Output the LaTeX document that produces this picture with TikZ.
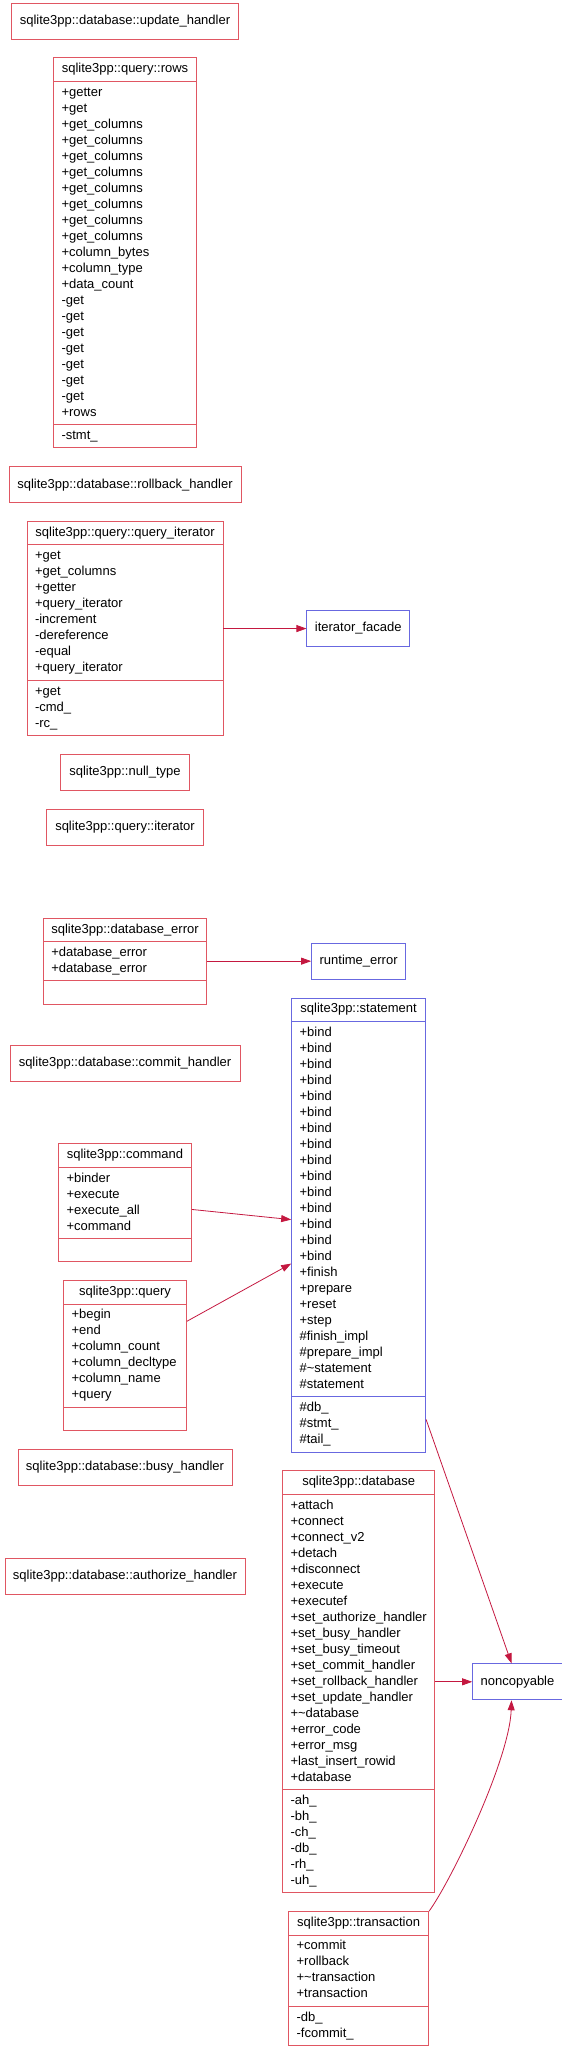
\documentclass[tikz,border=0pt]{standalone}
\usepackage{fontspec}
\setmainfont{Liberation Sans}
\usetikzlibrary{shapes.multipart, arrows.meta, positioning, calc}

\definecolor{clsred}{RGB}{224,86,98}
\definecolor{clsblue}{RGB}{104,104,224}
\definecolor{edgered}{RGB}{196,24,64}

\newcommand{\members}[1]{\begin{tabular}{@{}l@{}}#1\end{tabular}}

\tikzset{
    plainbox/.style={draw=clsred, line width=0.9pt, minimum height=36pt, inner xsep=8pt,
        font=\fontsize{13}{16}\selectfont},
    classbox/.style={draw=clsred, line width=0.9pt, rectangle split, rectangle split parts=3,
        rectangle split part align={center,left,left}, inner xsep=8pt, inner ysep=3.2pt,
        font=\fontsize{13}{16}\selectfont},
    isa/.style={draw=edgered, line width=0.8pt, -{Triangle[length=10pt, width=7pt, fill=edgered]}},
}

\begin{document}
\begin{tikzpicture}[x=1pt, y=-1pt]
    \useasboundingbox (0,0) rectangle (562,2054);

    \node [plainbox, minimum width=227pt] (UpdH) at (125,21) {sqlite3pp::database::update\_handler};
    \node [classbox, minimum width=143pt, below=18pt of UpdH] (Rows) {\strut sqlite3pp::query::rows
        \nodepart{second}\members{+getter\\+get\\+get\_columns\\+get\_columns\\+get\_columns\\+get\_columns\\
            +get\_columns\\+get\_columns\\+get\_columns\\+get\_columns\\+column\_bytes\\+column\_type\\
            +data\_count\\-get\\-get\\-get\\-get\\-get\\-get\\-get\\+rows}
        \nodepart{third}\members{-stmt\_}};
    \node [plainbox, minimum width=232pt, below=18pt of Rows] (RollH) {sqlite3pp::database::rollback\_handler};
    \node [classbox, minimum width=196pt, below=18pt of RollH] (QIter) {\strut sqlite3pp::query::query\_iterator
        \nodepart{second}\members{+get\\+get\_columns\\+getter\\+query\_iterator\\-increment\\-dereference\\
            -equal\\+query\_iterator}
        \nodepart{third}\members{+get\\-cmd\_\\-rc\_}};
    \node [plainbox, minimum width=129pt, below=18pt of QIter] (NullT) {sqlite3pp::null\_type};
    \node [plainbox, minimum width=157pt, below=18pt of NullT] (Iter) {sqlite3pp::query::iterator};
    \node [classbox, minimum width=163pt, below=72pt of Iter] (DbErr) {\strut sqlite3pp::database\_error
        \nodepart{second}\members{+database\_error\\+database\_error}
        \nodepart{third}\members{\mbox{}}};
    \node [plainbox, minimum width=230pt, below=40pt of DbErr] (CommitH) {sqlite3pp::database::commit\_handler};
    \node [classbox, minimum width=133pt, below=62pt of CommitH] (Cmd) {\strut sqlite3pp::command
        \nodepart{second}\members{+binder\\+execute\\+execute\_all\\+command}
        \nodepart{third}\members{\mbox{}}};
    \node [classbox, minimum width=123pt, below=18pt of Cmd] (Query) {\strut sqlite3pp::query
        \nodepart{second}\members{+begin\\+end\\+column\_count\\+column\_decltype\\+column\_name\\+query}
        \nodepart{third}\members{\mbox{}}};
    \node [plainbox, minimum width=214pt, below=18pt of Query] (BusyH) {sqlite3pp::database::busy\_handler};
    \node [plainbox, minimum width=240pt, below=72pt of BusyH] (AuthH) {sqlite3pp::database::authorize\_handler};

    \node [plainbox, draw=clsblue, minimum width=101pt, right=83pt of QIter] (IterFac) {iterator\_facade};
    \node [plainbox, draw=clsblue, minimum width=92pt, right=104pt of DbErr] (RtErr) {runtime\_error};
    \node [classbox, draw=clsblue, minimum width=134pt, below=18pt of RtErr] (Stmt) {\strut sqlite3pp::statement
        \nodepart{second}\members{+bind\\+bind\\+bind\\+bind\\+bind\\+bind\\+bind\\+bind\\+bind\\+bind\\
            +bind\\+bind\\+bind\\+bind\\+bind\\+finish\\+prepare\\+reset\\+step\\\#finish\_impl\\
            \#prepare\_impl\\\#\textasciitilde statement\\\#statement}
        \nodepart{third}\members{\#db\_\\\#stmt\_\\\#tail\_}};
    \node [classbox, minimum width=151pt, below=18pt of Stmt] (Db) {\strut sqlite3pp::database
        \nodepart{second}\members{+attach\\+connect\\+connect\_v2\\+detach\\+disconnect\\+execute\\+executef\\
            +set\_authorize\_handler\\+set\_busy\_handler\\+set\_busy\_timeout\\+set\_commit\_handler\\
            +set\_rollback\_handler\\+set\_update\_handler\\+\textasciitilde database\\+error\_code\\
            +error\_msg\\+last\_insert\_rowid\\+database}
        \nodepart{third}\members{-ah\_\\-bh\_\\-ch\_\\-db\_\\-rh\_\\-uh\_}};
    \node [classbox, minimum width=140pt, below=18pt of Db] (Trans) {\strut sqlite3pp::transaction
        \nodepart{second}\members{+commit\\+rollback\\+\textasciitilde transaction\\+transaction}
        \nodepart{third}\members{-db\_\\-fcommit\_}};
    \node [plainbox, draw=clsblue, minimum width=89pt, right=37pt of Db] (NonCopy) {noncopyable};

    \foreach \a/\b in {QIter/IterFac, DbErr/RtErr, Db/NonCopy} {
        \draw [isa] (\a.east) -- (\b.west);
    }
    \draw [isa] ($(Cmd.north east)+(0,66)$) -- ($(Stmt.north west)+(0,222)$);
    \draw [isa] ($(Query.north east)+(0,41)$) -- ($(Stmt.north west)+(0,266)$);
    \draw [isa] ($(Stmt.south east)+(0,-33)$) -- ($(NonCopy.north)+(-6,0)$);
    \draw [isa] (Trans.north east) .. controls +(23,-32) and +(-2,59) .. ($(NonCopy.south)+(-6,0)$);
\end{tikzpicture}
\end{document}
